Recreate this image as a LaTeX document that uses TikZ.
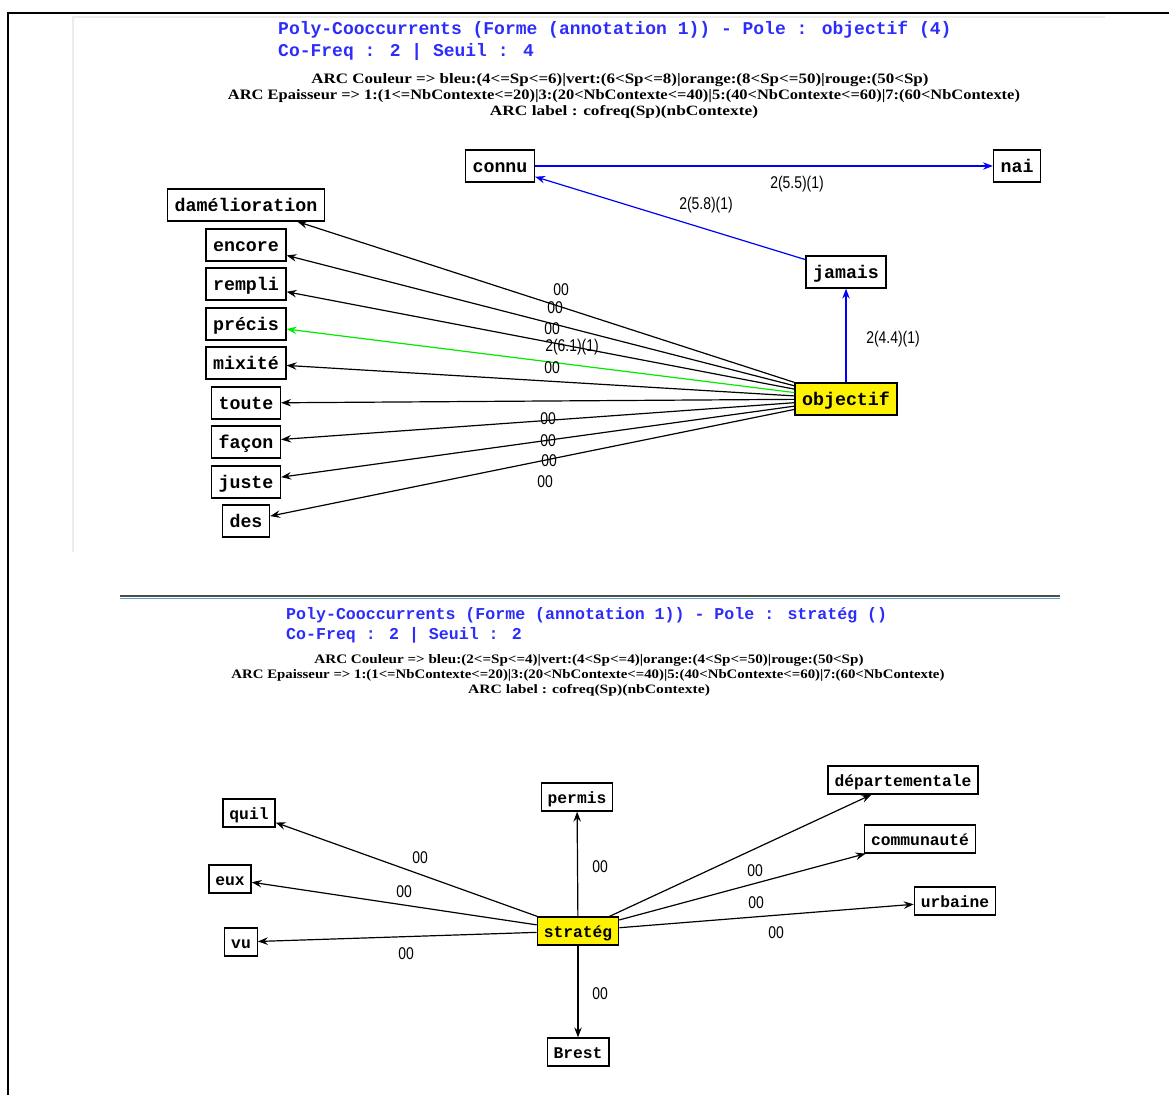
\documentclass[tikz,border=0pt]{standalone}
\usepackage{fontspec}
\usepackage{graphicx}
\usetikzlibrary{arrows.meta}
\setmainfont{Liberation Serif}
\newfontfamily\motfont{Liberation Mono}
\newfontfamily\arcfont[FakeStretch=0.82]{Liberation Sans}
\definecolor{titrebleu}{RGB}{45,45,250}
\definecolor{vert}{RGB}{0,235,0}
\definecolor{bleu}{RGB}{0,0,245}
\definecolor{panneau}{RGB}{236,236,236}
\definecolor{filet}{RGB}{90,160,200}
\tikzset{
  mot/.style={draw,line width=1.3pt,fill=white,inner xsep=7pt,inner ysep=8.5pt,text height=14pt,text depth=1pt,font=\motfont\bfseries\fontsize{18.3}{20}\selectfont},
  petitmot/.style={mot,inner xsep=6.4pt,inner ysep=7.25pt,text height=13pt,text depth=0.5pt,font=\motfont\bfseries\fontsize{16.3}{18}\selectfont},
  pole/.style={fill=yellow},
  arc/.style={line width=1.2pt,-{Stealth[length=10pt,width=7.5pt,inset=3.5pt]}},
  lab/.style={inner sep=0pt,font=\arcfont\fontsize{17}{17}\selectfont},
  titre/.style={anchor=west,inner sep=0pt,text=titrebleu,font=\motfont\bfseries\fontsize{18}{18}\selectfont},
  petittitre/.style={titre,font=\motfont\bfseries\fontsize{16.6}{17}\selectfont},
  legende/.style={inner sep=0pt,font=\bfseries}
}
\begin{document}
\begin{tikzpicture}[x=1pt,y=-1pt]
  \useasboundingbox (0,0) rectangle (1169,1095);
  % cadre
  \draw[line width=2.6pt] (1169,13) -- (8,13) -- (8,1095);
  \draw[line width=1.5pt,panneau] (73,552) -- (73,17) -- (1105,17);

  % premier graphe
  \node[titre] (titre1) at (278,30) {Poly-Cooccurrents (Forme (annotation 1)) - Pole : objectif (4)};
  \node[titre] (freq1) at (278,52) {Co-Freq : 2 | Seuil : 4};
  \node[legende] (couleur1) at (620,80) {\resizebox{617pt}{10pt}{ARC Couleur => bleu:(4<=Sp<=6)|vert:(6<Sp<=8)|orange:(8<Sp<=50)|rouge:(50<Sp)}};
  \node[legende] (epais1) at (624,96) {\resizebox{792pt}{10pt}{ARC Epaisseur => 1:(1<=NbContexte<=20)|3:(20<NbContexte<=40)|5:(40<NbContexte<=60)|7:(60<NbContexte)}};
  \node[legende] (label1) at (624,112) {\resizebox{268pt}{10pt}{ARC label : cofreq(Sp)(nbContexte)}};

  \node[mot] (connu) at (500,166) {connu};
  \node[mot] (nai) at (1017,166) {nai};
  \node[mot] (jamais) at (846,272) {jamais};
  \node[mot,pole] (objectif) at (846,399) {objectif};
  \node[mot] (damelioration) at (246,205) {damélioration};
  \node[mot] (encore) at (246,245) {encore};
  \node[mot] (rempli) at (246,284) {rempli};
  \node[mot] (precis) at (246,324) {précis};
  \node[mot] (mixite) at (246,363) {mixité};
  \node[mot] (toute) at (246,403) {toute};
  \node[mot] (facon) at (246,442) {façon};
  \node[mot] (juste) at (246,482) {juste};
  \node[mot] (des) at (246,521) {des};

  \draw[arc,bleu] (connu) -- (nai);
  \draw[arc,bleu] (jamais) -- (connu);
  \draw[arc,bleu] (objectif) -- (jamais);
  \draw[arc] (objectif) -- (damelioration);
  \draw[arc] (objectif) -- (encore);
  \draw[arc] (objectif) -- (rempli);
  \draw[arc,vert] (objectif) -- (precis);
  \draw[arc] (objectif) -- (mixite);
  \draw[arc] (objectif) -- (toute);
  \draw[arc] (objectif) -- (facon);
  \draw[arc] (objectif) -- (juste);
  \draw[arc] (objectif) -- (des);

  \node[lab] (l-nai) at (797,184) {2(5.5)(1)};
  \node[lab] (l-connu) at (706,205) {2(5.8)(1)};
  \node[lab] (l-jamais) at (893,339) {2(4.4)(1)};
  \node[lab] (l-dam) at (561,290) {00};
  \node[lab] (l-encore) at (555,308) {00};
  \node[lab] (l-rempli) at (552,329) {00};
  \node[lab] (l-precis) at (572,347) {2(6.1)(1)};
  \node[lab] (l-mixite) at (552,368) {00};
  \node[lab] (l-toute) at (548,419) {00};
  \node[lab] (l-facon) at (548,441) {00};
  \node[lab] (l-juste) at (549,461) {00};
  \node[lab] (l-des) at (545,482) {00};

  % separation
  \draw[line width=2.4pt,black!70] (120,596) -- (1060,596);
  \draw[line width=1.4pt,filet] (120,598.6) -- (1060,598.6);

  % second graphe
  \node[petittitre] (titre2) at (286,615) {Poly-Cooccurrents (Forme (annotation 1)) - Pole : stratég ()};
  \node[petittitre] (freq2) at (286,635) {Co-Freq : 2 | Seuil : 2};
  \node[legende] (couleur2) at (589,660) {\resizebox{549pt}{9pt}{ARC Couleur => bleu:(2<=Sp<=4)|vert:(4<Sp<=4)|orange:(4<Sp<=50)|rouge:(50<Sp)}};
  \node[legende] (epais2) at (588,675) {\resizebox{713pt}{9pt}{ARC Epaisseur => 1:(1<=NbContexte<=20)|3:(20<NbContexte<=40)|5:(40<NbContexte<=60)|7:(60<NbContexte)}};
  \node[legende] (label2) at (589,690) {\resizebox{242pt}{9pt}{ARC label : cofreq(Sp)(nbContexte)}};

  \node[petitmot,pole] (strateg) at (578,931) {stratég};
  \node[petitmot] (quil) at (249,813) {quil};
  \node[petitmot] (eux) at (230,879) {eux};
  \node[petitmot] (vu) at (241,942) {vu};
  \node[petitmot] (permis) at (577,797) {permis};
  \node[petitmot] (brest) at (578,1052) {Brest};
  \node[petitmot] (departementale) at (903,780) {départementale};
  \node[petitmot] (communaute) at (920,839) {communauté};
  \node[petitmot] (urbaine) at (955,901) {urbaine};

  \draw[arc] (strateg) -- (quil);
  \draw[arc] (strateg) -- (eux);
  \draw[arc] (strateg) -- (vu);
  \draw[arc] (strateg) -- (permis);
  \draw[arc] (strateg) -- (brest);
  \draw[arc] (strateg) -- (departementale);
  \draw[arc] (strateg) -- (communaute);
  \draw[arc] (strateg) -- (urbaine);

  \node[lab] (l-quil) at (420,858) {00};
  \node[lab] (l-eux) at (404,892) {00};
  \node[lab] (l-vu) at (406,954) {00};
  \node[lab] (l-permis) at (600,867) {00};
  \node[lab] (l-brest) at (600,994) {00};
  \node[lab] (l-dep) at (755,871) {00};
  \node[lab] (l-comm) at (756,903) {00};
  \node[lab] (l-urb) at (776,933) {00};
\end{tikzpicture}
\end{document}
